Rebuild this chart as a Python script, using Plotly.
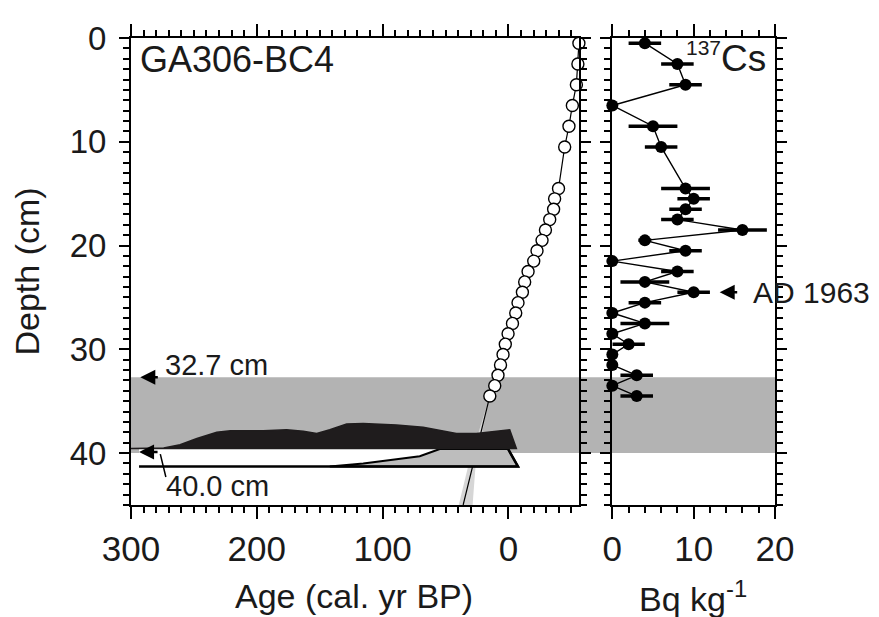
import plotly.graph_objects as go

# ---------------- data ----------------
depth = [0.5, 2.5, 4.5, 6.5, 8.5, 10.5, 14.5, 15.5, 16.5, 17.5, 18.5, 19.5, 20.5, 21.5,
         22.5, 23.5, 24.5, 25.5, 26.5, 27.5, 28.5, 29.5, 30.5, 31.5, 32.5, 33.5, 34.5]
age = [-56.0, -55.2, -54.0, -50.8, -48.1, -44.7, -39.8, -36.7, -35.9, -32.8, -29.4, -26.7,
       -22.7, -20.1, -15.6, -12.9, -11.1, -7.6, -5.8, -3.2, 0.3, 2.5, 4.3, 6.3, 8.3, 10.9, 14.8]
cs = [4.0, 8.0, 9.0, 0.0, 5.0, 6.0, 9.0, 10.0, 9.0, 8.0, 16.0, 4.0, 9.0, 0.0,
      8.0, 4.0, 10.0, 4.0, 0.0, 4.0, 0.0, 2.0, 0.0, 0.0, 3.0, 0.0, 3.0]
cs_err = [2.0, 2.0, 2.0, 0.0, 3.0, 2.0, 3.0, 2.0, 2.0, 2.0, 3.0, 0.8, 2.0, 0.0,
          2.0, 3.0, 2.0, 2.0, 0.0, 3.0, 0.0, 2.0, 0.0, 0.0, 2.0, 0.0, 2.0]

# extrapolated age model below the dated section
ext_depth = [34.5, 36.3, 41.0, 45.0]
ext_age = [14.8, 18.4, 28.0, 36.0]
ext_age_old = [14.8, 19.5, 31.5, 39.5]
ext_age_young = [14.8, 17.5, 26.0, 28.5]

# black distribution (age, depth of upper edge)
black_age = [300.5, 274, 261, 247.6, 231.8, 221, 194.8, 176.3, 163, 152.4, 142, 128.6,
             115.4, 89, 67.8, 52, 41.4, 25.5, 9.6, -1, -6.3]
black_depth = [39.55, 39.5, 39.2, 38.6, 38.0, 37.85, 37.85, 37.75, 37.9, 38.1, 37.75, 37.2,
               37.15, 37.3, 37.5, 37.9, 38.1, 38.1, 37.85, 37.75, 39.55]
black_base = 39.55

# lower outlined box with grey distribution
box_top = 39.6
box_bottom = 41.3
box_age_left = 293.6
box_age_right_top = 0.3
box_age_right_bottom = -7.6
grey_curve_age = [142, 115.4, 89, 70.5, 54.6]
grey_curve_depth = [41.3, 41.0, 40.6, 40.3, 39.6]

band_top = 32.7
band_bottom = 40.0

FONT = "Liberation Sans, Arial, sans-serif"

fig = go.Figure()

# shaded depth interval across both panels
fig.add_shape(type="rect", xref="paper", yref="y", x0=0, x1=1, y0=band_top, y1=band_bottom,
              fillcolor="#b3b3b3", line=dict(width=0), layer="below")

# model uncertainty band
fig.add_trace(go.Scatter(
    x=ext_age_old + ext_age_young[::-1], y=ext_depth + ext_depth[::-1],
    fill="toself", fillcolor="#d6d6d6", line=dict(width=0), mode="lines",
    hoverinfo="skip", showlegend=False, xaxis="x", yaxis="y"))

# model line
fig.add_trace(go.Scatter(
    x=age + ext_age[1:], y=depth + ext_depth[1:], mode="lines",
    line=dict(color="black", width=1.2), showlegend=False, xaxis="x", yaxis="y"))

# box (white) with grey distribution
fig.add_trace(go.Scatter(
    x=[box_age_left, box_age_right_bottom, box_age_right_top, box_age_left, box_age_left],
    y=[box_bottom, box_bottom, box_top, box_top, box_bottom],
    fill="toself", fillcolor="white", line=dict(width=0), mode="lines",
    showlegend=False, xaxis="x", yaxis="y"))
fig.add_trace(go.Scatter(
    x=grey_curve_age + [box_age_right_top, box_age_right_bottom, grey_curve_age[0]],
    y=grey_curve_depth + [box_top, box_bottom, box_bottom],
    fill="toself", fillcolor="#bdbdbd", line=dict(color="black", width=2), mode="lines",
    showlegend=False, xaxis="x", yaxis="y"))
fig.add_trace(go.Scatter(
    x=[box_age_right_top, box_age_right_bottom, box_age_left],
    y=[box_top, box_bottom, box_bottom], mode="lines",
    line=dict(color="black", width=2.5), showlegend=False, xaxis="x", yaxis="y"))

# black distribution
fig.add_trace(go.Scatter(
    x=black_age + [black_age[0]], y=black_depth + [black_base],
    fill="toself", fillcolor="#1f1c1d", line=dict(color="#1f1c1d", width=1.5), mode="lines",
    showlegend=False, xaxis="x", yaxis="y"))

# age-model points
fig.add_trace(go.Scatter(
    x=age, y=depth, mode="markers",
    marker=dict(symbol="circle", size=12, color="white", line=dict(color="black", width=1.4)),
    cliponaxis=False, showlegend=False, xaxis="x", yaxis="y"))

# 137Cs profile
fig.add_trace(go.Scatter(
    x=cs, y=depth, mode="lines+markers",
    line=dict(color="black", width=1.4),
    marker=dict(symbol="circle", size=12, color="black"),
    error_x=dict(type="data", array=cs_err, visible=True, color="black", thickness=3.5, width=0),
    cliponaxis=False, showlegend=False, xaxis="x2", yaxis="y2"))

axis_common = dict(showline=True, linecolor="black", linewidth=2, mirror="allticks",
                   ticks="outside", tickcolor="black", tickwidth=2, showgrid=False,
                   zeroline=False)

# the page body has an 8px margin, so the figure is 8px smaller than the window
fig.update_layout(
    width=871, height=609,
    margin=dict(l=123, r=104, t=21, b=112),
    paper_bgcolor="white", plot_bgcolor="white",
    font=dict(family=FONT, color="#1a1a1a"),
    xaxis=dict(domain=[0, 0.6955], range=[300, -56], tick0=0, dtick=100, ticklen=12,
               minor=dict(dtick=10, tick0=0, ticklen=6, ticks="outside", tickcolor="black", tickwidth=1.5),
               tickfont=dict(size=35), ticklabelstandoff=0, anchor="y", **axis_common),
    yaxis=dict(domain=[0, 1], range=[45, 0], tick0=0, dtick=10, ticklen=10,
               minor=dict(dtick=1, tick0=0, ticklen=6, ticks="outside", tickcolor="black", tickwidth=1.5),
               tickfont=dict(size=33), ticklabelstandoff=6, anchor="x", **axis_common),
    xaxis2=dict(domain=[0.7474, 1], range=[0, 20], tick0=0, dtick=10, ticklen=12,
                minor=dict(dtick=2, tick0=0, ticklen=6, ticks="outside", tickcolor="black", tickwidth=1.5),
                tickfont=dict(size=35), ticklabelstandoff=0, anchor="y2", **axis_common),
    yaxis2=dict(domain=[0, 1], range=[45, 0], tick0=0, dtick=10, ticklen=10, matches="y",
                showticklabels=False,
                minor=dict(dtick=1, tick0=0, ticklen=6, ticks="outside", tickcolor="black", tickwidth=1.5),
                anchor="x2", **axis_common),
)

ann = []
# axis titles
ann.append(dict(text="Age (cal. yr BP)", xref="paper", yref="paper", x=0.3465, y=-0.195,
                xanchor="center", yanchor="middle", showarrow=False, font=dict(size=34)))
ann.append(dict(text="Bq kg<sup>-1</sup>", xref="paper", yref="paper", x=0.873, y=-0.195,
                xanchor="center", yanchor="middle", showarrow=False, font=dict(size=34)))
ann.append(dict(text="Depth (cm)", xref="paper", yref="paper", x=-0.163, y=0.5, textangle=-90,
                xanchor="center", yanchor="middle", showarrow=False, font=dict(size=34)))
# panel labels
ann.append(dict(text="GA306-BC4", xref="x", yref="y", x=294.2, y=2.05, xanchor="left",
                yanchor="middle", showarrow=False, font=dict(size=36)))
ann.append(dict(text="<sup><span style='font-size:21px'>137</span></sup>Cs", xref="x2", yref="y2",
                x=19.2, y=1.9, xanchor="right", yanchor="middle", showarrow=False,
                font=dict(size=37)))
# depth markers
ann.append(dict(text="", xref="x", yref="y", x=292.6, y=band_top, ax=19, ay=0,
                showarrow=True, arrowhead=2, arrowsize=1.2, arrowwidth=2.5, arrowcolor="black"))
ann.append(dict(text="32.7 cm", xref="x", yref="y", x=274.4, y=31.5, xanchor="left",
                yanchor="middle", showarrow=False, font=dict(size=29)))
ann.append(dict(text="", xref="x", yref="y", x=293.6, y=band_bottom - 0.1, ax=20, ay=0,
                showarrow=True, arrowhead=2, arrowsize=1.2, arrowwidth=2.5, arrowcolor="black"))
ann.append(dict(text="40.0 cm", xref="x", yref="y", x=274.1, y=43.2, xanchor="left",
                yanchor="middle", showarrow=False, font=dict(size=29)))
# leader line for the 40.0 cm label
ann.append(dict(text="", xref="x", yref="y", x=276.7, y=40.1, ax=272.0, ay=42.45,
                axref="x", ayref="y", showarrow=True, arrowhead=0, arrowwidth=1.5,
                arrowcolor="black"))
# AD 1963
ann.append(dict(text="", xref="x2", yref="y2", x=13.2, y=24.5, ax=19, ay=0,
                showarrow=True, arrowhead=2, arrowsize=1.2, arrowwidth=2.5, arrowcolor="black"))
ann.append(dict(text="AD 1963", xref="x2", yref="y2", x=17.05, y=24.5, xanchor="left",
                yanchor="middle", showarrow=False, font=dict(size=30)))

fig.update_layout(annotations=ann)

fig.write_html("out.html")
